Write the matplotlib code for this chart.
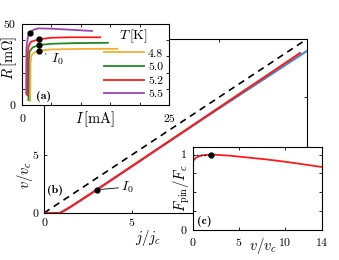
import matplotlib
matplotlib.use("Agg")
import matplotlib.pyplot as plt
from matplotlib.lines import Line2D

plt.rcParams['font.family'] = 'serif'
plt.rcParams['font.serif'] = ['cmr10', 'DejaVu Serif']
plt.rcParams['mathtext.fontset'] = 'cm'
plt.rcParams['axes.formatter.use_mathtext'] = True
plt.rcParams['font.size'] = 8

# ---------- data ----------
# panel (b): v/v_c against j/j_c
j_red = [0, 0.9, 0.95, 1.1, 1.5, 2.0, 3.0, 5.0, 7.0, 9.0, 11.0, 13.0, 14.6]
v_red = [0, 0, 0.03, 0.15, 0.52, 1.01, 2.0, 4.02, 6.05, 8.08, 10.12, 12.15, 13.78]
j_blue = [0.9, 1.5, 3.0, 6.0, 9.0, 12.0, 15.0]
v_blue = [0, 0.5, 1.98, 5.02, 8.04, 11.0, 13.97]
j_ohm = [0, 15]
v_ohm = [0, 15]
j_I0, v_I0 = 3.0, 2.0

# panel (a): R against I for several T
T_labels = ['4.8', '5.0', '5.2', '5.5']
T_colors = ['#f2b134', '#1f8a1f', '#ff1a1a', '#9b45b3']
I_48 = [1.4, 1.45, 1.6, 2.1, 2.9, 5.0, 10.0, 16.2]
R_48 = [2.5, 26, 30.5, 32.5, 33.5, 34.3, 34.6, 34.7]
I_50 = [1.1, 1.15, 1.3, 1.8, 2.9, 5.0, 9.0, 14.6]
R_50 = [3, 28, 33, 35.5, 37, 37.8, 38.2, 38.4]
I_52 = [0.9, 0.95, 1.1, 1.5, 2.9, 5.0, 8.0, 13.3]
R_52 = [6, 30, 36, 39, 40.6, 41.5, 41.8, 41.8]
I_55 = [0.7, 0.75, 1.0, 1.36, 2.0, 2.8, 5.0, 8.0, 11.9]
R_55 = [7, 35, 42, 44.6, 46.5, 47.3, 47.1, 46.5, 45.7]
I_dots = [2.9, 2.9, 2.9, 1.36]
R_dots = [33.5, 37.0, 40.6, 44.6]

# panel (c): F_pin/F_c against v/v_c
v_c = [0, 0, 0.02, 0.1, 0.3, 0.6, 1.0, 2.0, 4.0, 6.0, 8.0, 10.0, 12.0, 14.0]
F_c = [0, 0.89, 0.91, 0.93, 0.955, 0.975, 0.99, 1.0, 0.985, 0.96, 0.935, 0.905, 0.87, 0.835]
v_max, F_max = 1.96, 1.0


def style(ax, pad=3.5):
    ax.tick_params(direction='in', top=True, right=True, length=2.5, width=0.6,
                   pad=pad, labelsize=8.5)
    for s in ax.spines.values():
        s.set_linewidth(0.8)


fig = plt.figure(figsize=(3.39, 2.6), dpi=100)

# ---------- (b) main ----------
ax = fig.add_axes([0.1298, 0.1808, 0.7758, 0.6692])
ax.plot(j_ohm, v_ohm, '--', color='black', lw=1.2, dashes=(4, 3))
ax.plot(j_blue, v_blue, color='#3b8fd0', lw=1.5)
ax.plot(j_red, v_red, color='#ff1a1a', lw=1.5)
ax.plot([j_I0], [v_I0], 'o', color='black', ms=3.5)
ax.annotate('$I_0$', xy=(j_I0, v_I0), xytext=(4.4, 1.95), fontsize=10,
            arrowprops=dict(arrowstyle='-', lw=0.6, color='black', shrinkA=0, shrinkB=3))
ax.text(0.63, 1.98, '(b)', fontsize=8.5, family='cmb10', ha='center', va='center')
ax.set_xlim(0, 15)
ax.set_ylim(0, 15)
ax.set_xticks([0, 5, 10, 15])
ax.set_xticklabels(['0', '5', '', ''])
ax.set_yticks([0, 5, 10, 15])
ax.set_yticklabels(['0', '5', '', ''])
style(ax, pad=4)
ax.set_xlabel('$j/j_c$', fontsize=10.5)
ax.xaxis.set_label_coords(0.395, -0.085)
ax.set_ylabel('$v/v_c$', fontsize=10.5)
ax.yaxis.set_label_coords(-0.035, 0.215)

# ---------- (a) inset ----------
axa = fig.add_axes([0.0649, 0.5962, 0.4336, 0.3115])
axa.set_facecolor('white')
curves = [(I_48, R_48), (I_50, R_50), (I_52, R_52), (I_55, R_55)]
for (I, R), c in zip(curves, T_colors):
    axa.plot(I, R, color=c, lw=1.3)
axa.plot(I_dots, R_dots, 'o', color='black', ms=3.5, zorder=5)
axa.annotate('$I_0$', xy=(I_dots[0], R_dots[0]), xytext=(5.0, 26), fontsize=10,
             arrowprops=dict(arrowstyle='-', lw=0.6, color='black', shrinkA=2, shrinkB=5))
axa.text(3.6, 5, '(a)', fontsize=8.5, family='cmb10', ha='center', va='center')
axa.set_xlim(0, 25)
axa.set_ylim(0, 50)
axa.set_xticks([0, 5, 10, 15, 20, 25])
axa.set_xticklabels(['0', '', '', '', '', '25'])
axa.set_yticks([0, 10, 20, 30, 40, 50])
axa.set_yticklabels(['0', '', '', '', '', '50'])
style(axa, pad=4.5)
axa.tick_params(axis='x', pad=7)
axa.set_xlabel(r'$I\,[\mathrm{mA}]$', fontsize=10.5)
axa.xaxis.set_label_coords(0.5, -0.06)
axa.set_ylabel(r'$R\,[\mathrm{m}\Omega]$', fontsize=10.5)
axa.yaxis.set_label_coords(-0.02, 0.58)
handles = [Line2D([], [], color=c, lw=1.3) for c in T_colors]
leg = axa.legend(handles, T_labels, title=r'$T\,[\mathrm{K}]$', loc='upper right',
                 bbox_to_anchor=(1.0, 1.03), frameon=False, fontsize=8.5,
                 title_fontsize=10, handlelength=3.4, labelspacing=0.28,
                 handletextpad=0.35, borderaxespad=0.1)

# ---------- (c) inset ----------
axc = fig.add_axes([0.5693, 0.1154, 0.3805, 0.3192])
axc.set_facecolor('white')
axc.plot(v_c, F_c, color='#ff1a1a', lw=1.3)
axc.plot([0, v_max], [F_max, F_max], ':', color='black', lw=1.0)
axc.plot([v_max], [F_max], 'o', color='black', ms=3.5)
axc.text(1.2, 0.11, '(c)', fontsize=8.5, family='cmb10', ha='center', va='center')
axc.set_xlim(0, 14)
axc.set_ylim(0, 1.1)
axc.set_xticks([0, 5, 10, 14])
axc.set_yticks([0, 0.25, 0.5, 0.75, 1])
axc.set_yticklabels(['0', '', '', '', '1'])
style(axc, pad=4.5)
axc.set_xlabel('$v/v_c$', fontsize=10.5)
axc.xaxis.set_label_coords(0.54, -0.07)
axc.set_ylabel(r'$F_\mathrm{pin}/F_c$', fontsize=10.5)
axc.yaxis.set_label_coords(-0.01, 0.5)

fig.savefig('out.png', dpi=100)
